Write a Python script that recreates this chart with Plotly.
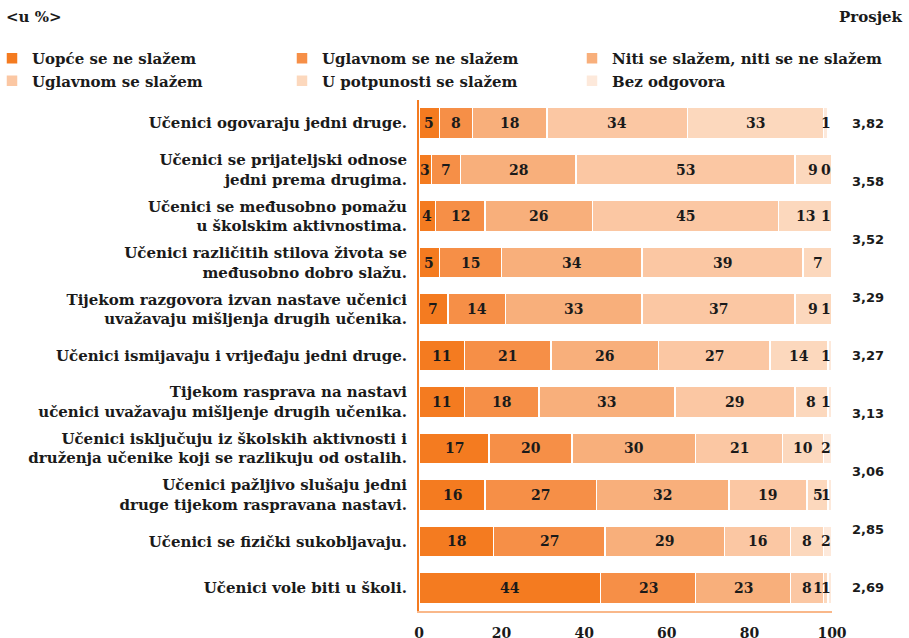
import numpy as np
import plotly.graph_objects as go

# survey statements, top to bottom
statements = [
    "Učenici ogovaraju jedni druge.",
    "Učenici se prijateljski odnose<br>jedni prema drugima.",
    "Učenici se međusobno pomažu<br>u školskim aktivnostima.",
    "Učenici različitih stilova života se<br>međusobno dobro slažu.",
    "Tijekom razgovora izvan nastave učenici<br>uvažavaju mišljenja drugih učenika.",
    "Učenici ismijavaju i vrijeđaju jedni druge.",
    "Tijekom rasprava na nastavi<br>učenici uvažavaju mišljenje drugih učenika.",
    "Učenici isključuju iz školskih aktivnosti i<br>druženja učenike koji se razlikuju od ostalih.",
    "Učenici pažljivo slušaju jedni<br>druge tijekom raspravana nastavi.",
    "Učenici se fizički sukobljavaju.",
    "Učenici vole biti u školi.",
]

answers = [
    "Uopće se ne slažem",
    "Uglavnom se ne slažem",
    "Niti se slažem, niti se ne slažem",
    "Uglavnom se slažem",
    "U potpunosti se slažem",
    "Bez odgovora",
]

uopce_ne = [5, 3, 4, 5, 7, 11, 11, 17, 16, 18, 44]
uglavnom_ne = [8, 7, 12, 15, 14, 21, 18, 20, 27, 27, 23]
niti = [18, 28, 26, 34, 33, 26, 33, 30, 32, 29, 23]
uglavnom_da = [34, 53, 45, 39, 37, 27, 29, 21, 19, 16, 8]
potpuno_da = [33, 9, 13, 7, 9, 14, 8, 10, 5, 8, 1]
bez_odgovora = [1, 0, 1, None, 1, 1, 1, 2, 1, 2, 1]

prosjek = ["3,82", "3,58", "3,52", "3,29", "3,27", "3,13", "3,06", "2,85", "2,69"]

x_ticks = [0, 20, 40, 60, 80, 100]

colors = ["#f47b20", "#f68f47", "#f8af7b", "#fbc7a3", "#fcd8bd", "#fde9db"]

series = [uopce_ne, uglavnom_ne, niti, uglavnom_da, potpuno_da, bez_odgovora]

serif = "DejaVu Serif"
ink = "#1a1a1a"

# legend laid out in three columns of two entries
legend_ids = ["legend", "legend2", "legend3", "legend", "legend2", "legend3"]

fig = go.Figure()
for name, vals, col, lg in zip(answers, series, colors, legend_ids):
    fig.add_trace(go.Bar(
        y=statements,
        x=[v if v is not None else 0 for v in vals],
        name=name,
        orientation="h",
        marker=dict(color=col, line=dict(color="white", width=1.5)),
        width=0.67,
        legend=lg,
        hoverinfo="x+name",
    ))

# value labels centred in each segment; tiny end segments nudged left
annotations = []
for i, stmt in enumerate(statements):
    left = 0
    labels = []
    for vals in series:
        v = vals[i]
        if v is None:
            continue
        labels.append([left + v / 2, v])
        left += v
    labels[-1][0] = min(labels[-1][0], 98.5)
    for j in range(len(labels) - 2, -1, -1):
        labels[j][0] = min(labels[j][0], labels[j + 1][0] - 1.9)
    for pos, v in labels:
        annotations.append(dict(
            x=pos, y=stmt, xref="x", yref="y", text=str(v), showarrow=False,
            font=dict(family=serif, size=14, color=ink, weight="bold"),
        ))

# average column on the right
n = len(statements)
for val, yy in zip(prosjek, np.linspace(1 - 0.5 / n, 0.5 / n, len(prosjek))):
    annotations.append(dict(
        x=1.087, y=yy, xref="paper", yref="paper", text=val, showarrow=False,
        xanchor="center", yanchor="middle",
        font=dict(family="DejaVu Sans", size=13, color=ink, weight="bold"),
    ))

annotations.append(dict(
    x=1.177, y=1.162, xref="paper", yref="paper", text="Prosjek",
    showarrow=False, xanchor="right", yanchor="middle",
    font=dict(family=serif, size=15, color=ink, weight="bold"),
))
annotations.append(dict(
    x=-1.005, y=1.162, xref="paper", yref="paper", text="&lt;u %&gt;",
    showarrow=False, xanchor="left", yanchor="middle",
    font=dict(family=serif, size=15, color=ink, weight="bold"),
))


def legend_box(xpx):
    # x given in pixels from the left edge of the figure
    return dict(
        orientation="v", xref="paper", yref="container",
        x=(xpx - 419) / 413, y=1 - 42 / 638, xanchor="left", yanchor="top",
        traceorder="normal", itemclick=False, bgcolor="rgba(0,0,0,0)",
        font=dict(family=serif, size=15, color=ink, weight="bold"),
    )


fig.update_layout(
    width=909, height=638,
    barmode="stack",
    plot_bgcolor="white", paper_bgcolor="white",
    margin=dict(l=419, r=77, t=100, b=27, autoexpand=False),
    font=dict(family=serif, size=14, color=ink),
    legend=legend_box(-8),
    legend2=legend_box(282),
    legend3=legend_box(572),
    annotations=annotations,
    showlegend=True,
)
fig.update_xaxes(
    range=[0, 100], tickvals=x_ticks, showgrid=False, zeroline=False,
    showline=True, linecolor="#f9b88a", linewidth=2, ticks="",
    ticklabelstandoff=8,
    tickfont=dict(family=serif, size=14, color=ink, weight="bold"),
)
fig.update_yaxes(
    autorange="reversed", showgrid=False, zeroline=False,
    showline=True, linecolor="#f47b20", linewidth=2, ticks="",
    ticklabelstandoff=7,
    tickfont=dict(family=serif, size=15, color=ink, weight="bold"),
)

fig.write_html("out.html", config={"displayModeBar": False},
               post_script="document.body.style.margin='0px';")
